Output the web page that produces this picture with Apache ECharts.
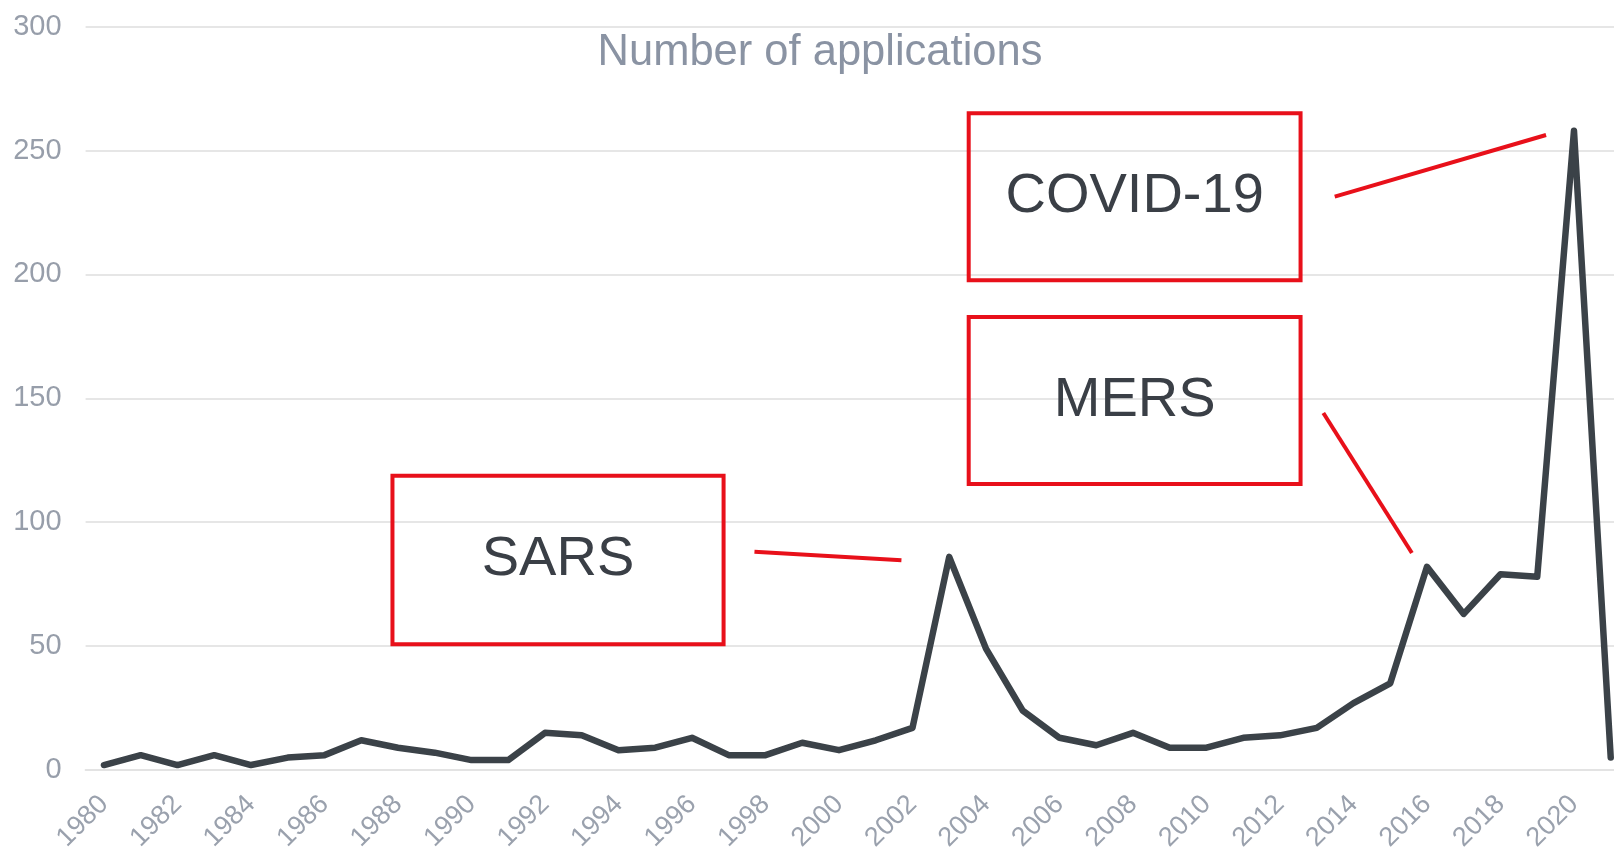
<!DOCTYPE html>
<html>
<head>
<meta charset="utf-8">
<script src="https://cdn.jsdelivr.net/npm/echarts@6/dist/echarts.min.js"></script>
<style>
html,body{margin:0;padding:0;background:#fff;}
#chart{width:1614px;height:849px;}
</style>
</head>
<body>
<div id="chart"></div>
<script>
const years = ['1980','1981','1982','1983','1984','1985','1986','1987','1988','1989','1990','1991','1992','1993','1994','1995','1996','1997','1998','1999','2000','2001','2002','2003','2004','2005','2006','2007','2008','2009','2010','2011','2012','2013','2014','2015','2016','2017','2018','2019','2020','2021'];
const applications = [2,6,2,6,2,5,6,12,9,7,4,4,15,14,8,9,13,6,6,11,8,12,17,86,49,24,13,10,15,9,9,13,14,17,27,35,82,63,79,78,258,5];
const yTicks = [0,50,100,150,200,250,300];
const titleText = 'Number of applications';
// annotation boxes in data units: [yearFrom, yearTo, valueTop, valueBottom]
const annotationLabels = ['SARS','COVID-19','MERS'];
const annotationBoxes = [[1987.85,1996.86,118.8,50.8],[2003.53,2012.56,265.1,197.7],[2003.53,2012.56,182.8,115.4]];
// connector lines in data units: [year1, value1, year2, value2]
const annotationLines = [[1997.7,88.1,2001.7,84.7],[2013.49,231.4,2019.24,256.3],[2013.18,144.1,2015.59,87.6]];

const FONT = 'Liberation Sans, Arial, sans-serif';
const chart = echarts.init(document.getElementById('chart'), null, {renderer:'canvas'});
const option = {
  animation:false,
  backgroundColor:'#ffffff',
  title:{text:titleText,left:815,textAlign:'center',top:26,textStyle:{fontFamily:FONT,fontSize:43.5,fontWeight:'normal',color:'#8a93a3'}},
  grid:{left:85.6,right:-15.1,top:26.7,bottom:79,containLabel:false,outerBoundsMode:'none'},
  xAxis:{type:'category',data:years,boundaryGap:true,
    axisLine:{show:true,lineStyle:{color:'#e3e3e3',width:2}},
    axisTick:{show:false},
    axisLabel:{interval:1,rotate:45,margin:30,fontSize:27,color:'#9aa1ad',fontFamily:FONT},
    splitLine:{show:false}},
  yAxis:{type:'value',min:0,max:300,interval:50,
    axisLine:{show:false},axisTick:{show:false},
    axisLabel:{fontSize:29,color:'#979eaa',margin:24,fontFamily:FONT,
      formatter:function(v){return yTicks.indexOf(v)>=0?String(v):'';}},
    splitLine:{lineStyle:{color:'#e6e6e6',width:2}}},
  series:[{type:'line',data:applications,symbol:'none',clip:false,
    lineStyle:{color:'#3b4248',width:6.5,join:'round',cap:'round'}}]
};
chart.setOption(option);

const p0 = chart.convertToPixel({gridIndex:0},[0,0]);
const p1 = chart.convertToPixel({gridIndex:0},[1,100]);
function px(year){return p0[0]+(year-1980)*(p1[0]-p0[0]);}
function py(v){return p0[1]+v*(p1[1]-p0[1])/100;}
const red = '#e8101a';
const graphics = [];
annotationBoxes.forEach(function(b,i){
  const x1=px(b[0]),x2=px(b[1]),y1=py(b[2]),y2=py(b[3]);
  graphics.push({type:'rect',shape:{x:x1,y:y1,width:x2-x1,height:y2-y1},style:{fill:'rgba(255,255,255,0)',stroke:red,lineWidth:4},z:10});
  graphics.push({type:'text',x:(x1+x2)/2,y:(y1+y2)/2,style:{text:annotationLabels[i],fontSize:56,fontFamily:FONT,fill:'#3a3f46',align:'center',verticalAlign:'middle'},z:11});
});
annotationLines.forEach(function(l){
  graphics.push({type:'line',shape:{x1:px(l[0]),y1:py(l[1]),x2:px(l[2]),y2:py(l[3])},style:{stroke:red,lineWidth:4},z:10});
});
chart.setOption({graphic:graphics});
</script>
</body>
</html>
